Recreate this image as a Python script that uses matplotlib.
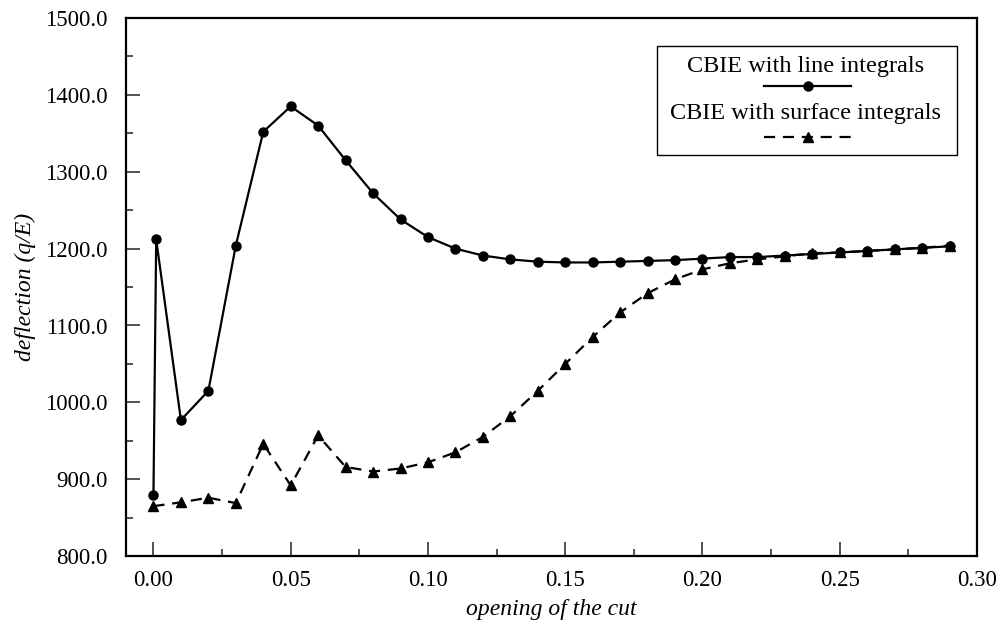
import matplotlib
matplotlib.use("Agg")
import matplotlib.pyplot as plt
from matplotlib.lines import Line2D
from matplotlib.patches import Rectangle
from matplotlib.ticker import MultipleLocator, FormatStrFormatter

plt.rcParams['font.family'] = ['Liberation Serif', 'DejaVu Serif']

# line integrals (circles)
x_line = [0.0, 0.001, 0.01, 0.02, 0.03, 0.04, 0.05, 0.06, 0.07, 0.08, 0.09,
          0.10, 0.11, 0.12, 0.13, 0.14, 0.15, 0.16, 0.17, 0.18, 0.19,
          0.20, 0.21, 0.22, 0.23, 0.24, 0.25, 0.26, 0.27, 0.28, 0.29]
y_line = [880, 1212, 977, 1015, 1204, 1352, 1385, 1360, 1315, 1272, 1238,
          1215, 1200, 1191, 1186, 1183, 1182, 1182, 1183, 1184, 1185,
          1187, 1189, 1189, 1191, 1193, 1195, 1197, 1199, 1201, 1203]

# surface integrals (triangles)
x_surf = [0.0, 0.01, 0.02, 0.03, 0.04, 0.05, 0.06, 0.07, 0.08, 0.09,
          0.10, 0.11, 0.12, 0.13, 0.14, 0.15, 0.16, 0.17, 0.18, 0.19,
          0.20, 0.21, 0.22, 0.23, 0.24, 0.25, 0.26, 0.27, 0.28, 0.29]
y_surf = [865, 870, 876, 869, 946, 892, 957, 916, 910, 914,
          922, 935, 955, 982, 1015, 1050, 1085, 1117, 1142, 1160,
          1173, 1181, 1186, 1190, 1194, 1195, 1197, 1199, 1201, 1204]

label_line = "CBIE with line integrals"
label_surf = "CBIE with surface integrals"

dash = (0, (5, 3.5))

fig = plt.figure(figsize=(10, 6.2), dpi=100)
ax = fig.add_axes([0.126, 0.103, 0.851, 0.868])

ax.plot(x_line, y_line, color='black', lw=1.6, marker='o', ms=6.5)
ax.plot(x_surf, y_surf, color='black', lw=1.6, ls=dash, marker='^', ms=7.5)

ax.set_xlim(-0.01, 0.30)
ax.set_ylim(800, 1500)
ax.xaxis.set_major_locator(MultipleLocator(0.05))
ax.xaxis.set_minor_locator(MultipleLocator(0.025))
ax.yaxis.set_major_locator(MultipleLocator(100))
ax.yaxis.set_minor_locator(MultipleLocator(50))
ax.xaxis.set_major_formatter(FormatStrFormatter('%.2f'))
ax.yaxis.set_major_formatter(FormatStrFormatter('%.1f'))
ax.tick_params(which='both', direction='in', width=1.2, labelsize=16.5, color='#333333')
ax.tick_params(which='major', length=10)
ax.tick_params(which='minor', length=5)
ax.tick_params(axis='x', which='major', pad=10)
ax.tick_params(axis='y', which='major', pad=13)
for s in ax.spines.values():
    s.set_linewidth(1.6)

ax.set_xlabel("opening of the cut", style='italic', fontsize=17, labelpad=6)
ax.set_ylabel("deflection (q/E)", style='italic', fontsize=17, labelpad=7)

# legend drawn by hand: text above sample line
tr = ax.transAxes
ax.add_patch(Rectangle((0.624, 0.745), 0.352, 0.203, transform=tr,
                       fill=False, lw=1.0, ec='black', zorder=5))
ax.text(0.799, 0.9095, label_line, transform=tr, ha='center', va='center', fontsize=17.5)
ax.add_line(Line2D([0.75, 0.852], [0.874, 0.874], transform=tr, color='black', lw=1.6))
ax.add_line(Line2D([0.801], [0.874], transform=tr, color='black', marker='o', ms=6.5))
ax.text(0.799, 0.8216, label_surf, transform=tr, ha='center', va='center', fontsize=17.5)
ax.add_line(Line2D([0.75, 0.852], [0.778, 0.778], transform=tr, color='black',
                   lw=1.6, ls=dash))
ax.add_line(Line2D([0.801], [0.778], transform=tr, color='black', marker='^', ms=7.5))

fig.savefig("out.png", dpi=100)
